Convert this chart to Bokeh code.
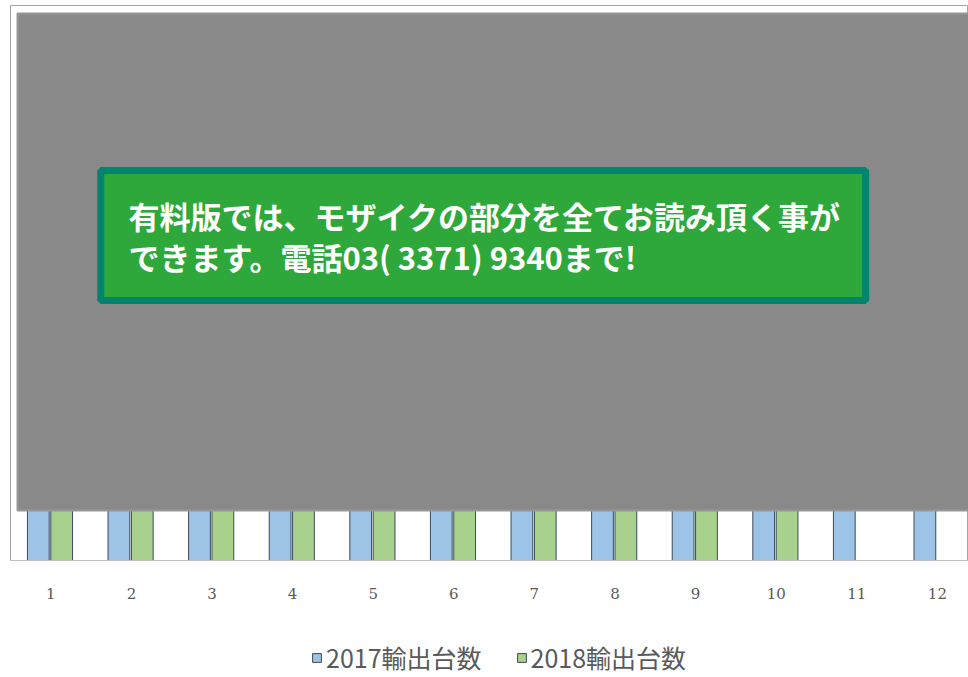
from bokeh.plotting import figure
from bokeh.models import (Range1d, FixedTicker, Legend, LegendItem, BoxAnnotation,
                          Label, ColumnDataSource)
from bokeh.layouts import column
from bokeh.transform import dodge
from bokeh.embed import file_html
from bokeh.resources import INLINE
import math

months = [1, 2, 3, 4, 5, 6, 7, 8, 9, 10, 11, 12]
month_labels = ["1", "2", "3", "4", "5", "6", "7", "8", "9", "10", "11", "12"]
exports_2017 = [2900, 3100, 3400, 3000, 3200, 3300, 3100, 2800, 3000, 3300, 3200, 3500]
exports_2018 = [3000, 3200, 3500, 3100, 3300, 3400, 3200, 2900, 3100, 3400, math.nan, math.nan]
series_names = ["2017輸出台数", "2018輸出台数"]
series_colors = ["#9dc3e6", "#a9d18e"]
notice_lines = ["有料版では、モザイクの部分を全てお読み頂く事が",
                "できます。電話03( 3371) 9340まで!"]

src = ColumnDataSource(dict(month=months, y17=exports_2017, y18=exports_2018))

p = figure(width=968, height=620, output_backend="svg", toolbar_location=None,
           x_range=Range1d(0.5, 12.386), y_range=Range1d(0, 5550),
           min_border_left=10, min_border_right=0, min_border_top=5, min_border_bottom=60)
p.background_fill_color = "white"
p.border_fill_color = "white"
p.outline_line_color = "#a6a6a6"
p.outline_line_width = 1
p.xgrid.visible = False
p.ygrid.visible = False
p.yaxis.visible = False

ax = p.xaxis[0]
ax.ticker = FixedTicker(ticks=months)
ax.major_label_overrides = {m: l for m, l in zip(months, month_labels)}
ax.axis_line_color = "#bfbfbf"
ax.major_tick_line_color = None
ax.minor_tick_line_color = None
ax.major_label_standoff = 21
ax.major_label_text_font = "DejaVu Serif"
ax.major_label_text_font_size = "15px"
ax.major_label_text_color = "#595959"

p.vbar(x=dodge("month", -0.155, range=p.x_range), top="y17", width=0.27, source=src,
       fill_color=series_colors[0], line_color="#3a4a5a", line_width=1)
p.vbar(x=dodge("month", 0.135, range=p.x_range), top="y18", width=0.27, source=src,
       fill_color=series_colors[1], line_color="#3a4a5a", line_width=1)

# mosaic overlay
p.add_layout(BoxAnnotation(left=0.587, right=12.5, bottom=500, top=5470,
                           fill_color="#898989", fill_alpha=1.0,
                           line_color="#979797", line_alpha=1.0, line_width=2, level="overlay"))
# notice banner
p.add_layout(BoxAnnotation(left=1.62, right=11.11, bottom=2600, top=3900,
                           fill_color="#2ea83a", fill_alpha=1.0,
                           line_color="#00846e", line_alpha=1.0, line_width=7, level="overlay"))
for txt, yv in zip(notice_lines, [3450, 3040]):
    p.add_layout(Label(x=1.964, y=yv, text=txt, text_color="white",
                       text_font="Noto Sans CJK JP", text_font_style="bold",
                       text_font_size="31px", text_baseline="middle", text_align="left",
                       level="overlay"))

# legend strip below the chart (proxy renderers share the series source, kept out of view)
lg = figure(width=968, height=57, output_backend="svg", toolbar_location=None,
            x_range=Range1d(-20, -19), y_range=Range1d(100000, 100001),
            min_border=0, outline_line_color=None)
lg.axis.visible = False
lg.grid.visible = False
lg.border_fill_color = "white"
lg.background_fill_color = "white"
items = []
for name, col, key in zip(series_names, series_colors, ["y17", "y18"]):
    rr = lg.vbar(x="month", top=key, width=0.27, source=src,
                 fill_color=col, line_color="#3a4a5a", line_width=1)
    items.append(LegendItem(label=name, renderers=[rr], index=0))
legend = Legend(items=items, orientation="horizontal", location=(301, 2),
                label_text_font="Noto Sans CJK JP", label_text_font_size="25px",
                label_text_color="#595959", glyph_width=11, glyph_height=11,
                spacing=34, padding=3, margin=0, label_standoff=4,
                background_fill_alpha=0, border_line_color=None)
lg.add_layout(legend, "center")

layout = column(p, lg, spacing=0)
open("out.html", "w").write(file_html(layout, INLINE))
